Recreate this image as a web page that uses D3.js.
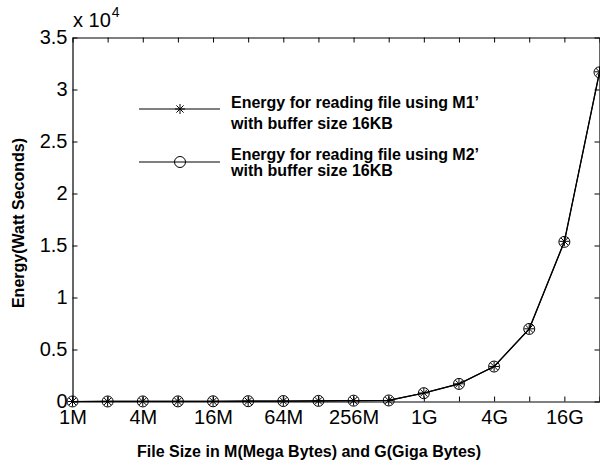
<!DOCTYPE html>
<html>
<head>
<meta charset="utf-8">
<script src="https://cdn.jsdelivr.net/npm/d3@7"></script>
<style>
  body { margin: 0; background: #fff; }
  svg { display: block; font-family: "Liberation Sans", Arial, sans-serif; }
</style>
</head>
<body>
<div id="chart"></div>
<script>
// file sizes, one point per doubling
const sizes = ["1M", "2M", "4M", "8M", "16M", "32M", "64M", "128M", "256M", "512M",
               "1G", "2G", "4G", "8G", "16G", "32G"];
// energy in watt seconds
const energyM1 = [2, 4, 7, 12, 20, 30, 45, 60, 80, 100, 820, 1700, 3370, 6990, 15400, 31700];
const energyM2 = [2, 4, 7, 12, 20, 30, 45, 60, 80, 100, 800, 1690, 3360, 6980, 15350, 31650];
const yTicks = [0, 5000, 10000, 15000, 20000, 25000, 30000, 35000];

const W = 600, H = 465;
const plotL = 72.5, plotR = 599.5, plotT = 37.5, plotB = 401.5;

const svg = d3.select("#chart").append("svg")
  .attr("width", W).attr("height", H);

const x = d3.scaleLinear().domain([0, sizes.length - 1]).range([plotL, plotR]);
const y = d3.scaleLinear().domain([0, 35000]).range([plotB, plotT]);

function styleAxis(g) {
  g.select(".domain").attr("stroke", "#000").attr("stroke-width", 1.2);
  g.selectAll(".tick line").attr("stroke", "#000");
  g.selectAll("text").attr("fill", "#000").attr("font-size", 20)
    .attr("font-family", "Liberation Sans, Arial, sans-serif");
}

// bottom axis, labels on every other size
svg.append("g")
  .attr("transform", `translate(0,${plotB})`)
  .call(d3.axisBottom(x).tickValues(d3.range(sizes.length))
    .tickSize(-5).tickSizeOuter(0).tickPadding(8)
    .tickFormat(i => i % 2 === 0 ? sizes[i] : ""))
  .call(styleAxis);

svg.append("g")
  .attr("transform", `translate(0,${plotT})`)
  .call(d3.axisTop(x).tickValues(d3.range(sizes.length))
    .tickSize(-5).tickSizeOuter(0).tickFormat(""))
  .call(styleAxis);

svg.append("g")
  .attr("transform", `translate(${plotL},0)`)
  .call(d3.axisLeft(y).tickValues(yTicks)
    .tickSize(-5).tickSizeOuter(0).tickPadding(5)
    .tickFormat(v => v / 10000))
  .call(styleAxis);

svg.append("g")
  .attr("transform", `translate(${plotR},0)`)
  .call(d3.axisRight(y).tickValues(yTicks)
    .tickSize(-5).tickSizeOuter(0).tickFormat(""))
  .call(styleAxis);

// exponent
const ex = svg.append("text").attr("x", 73).attr("y", 27).attr("font-size", 20);
ex.append("tspan").text("x 10");
ex.append("tspan").attr("font-size", 14).attr("dy", -10).attr("dx", 1).text("4");

// axis titles
svg.append("text")
  .attr("x", 309).attr("y", 457)
  .attr("text-anchor", "middle")
  .attr("font-size", 16).attr("font-weight", "bold")
  .text("File Size in M(Mega Bytes) and G(Giga Bytes)");

svg.append("text")
  .attr("transform", "translate(24,223) rotate(-90)")
  .attr("text-anchor", "middle")
  .attr("font-size", 16).attr("font-weight", "bold")
  .text("Energy(Watt Seconds)");

const line = d3.line().x((d, i) => x(i)).y(d => y(d));

function asterisk(g, cx, cy) {
  const r = 5;
  const d = r * 0.72;
  g.append("path")
    .attr("d", `M${cx},${cy - r}V${cy + r}M${cx - r},${cy}H${cx + r}` +
      `M${cx - d},${cy - d}L${cx + d},${cy + d}M${cx - d},${cy + d}L${cx + d},${cy - d}`)
    .attr("stroke", "#000").attr("stroke-width", 1).attr("fill", "none");
}

function circle(g, cx, cy) {
  g.append("circle").attr("cx", cx).attr("cy", cy).attr("r", 5.5)
    .attr("fill", "none").attr("stroke", "#000").attr("stroke-width", 1);
}

[energyM1, energyM2].forEach(vals => {
  svg.append("path").datum(vals)
    .attr("d", line)
    .attr("fill", "none").attr("stroke", "#000").attr("stroke-width", 1.2);
});

const marks = svg.append("g");
energyM1.forEach((v, i) => asterisk(marks, x(i), y(v)));
energyM2.forEach((v, i) => circle(marks, x(i), y(v)));

// legend
const legend = [
  { mark: asterisk, y: 109, lines: ["Energy for reading file using M1\u2019", "with buffer size 16KB"], base: [108, 129] },
  { mark: circle, y: 162, lines: ["Energy for reading file using M2\u2019", "with buffer size 16KB"], base: [160, 176] }
];
legend.forEach(e => {
  svg.append("line").attr("x1", 139).attr("x2", 220).attr("y1", e.y).attr("y2", e.y)
    .attr("stroke", "#000").attr("stroke-width", 1);
  e.mark(svg, 180, e.y);
  e.lines.forEach((t, k) => {
    svg.append("text").attr("x", 231).attr("y", e.base[k])
      .attr("font-size", 16).attr("font-weight", "bold").text(t);
  });
});
</script>
</body>
</html>
